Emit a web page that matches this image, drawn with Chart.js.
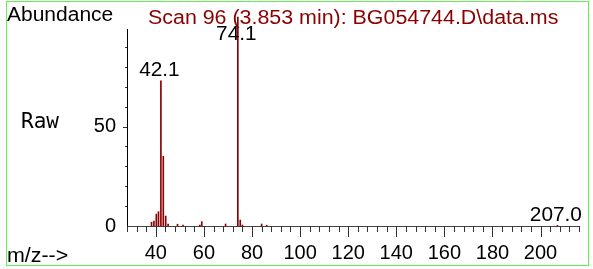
<!DOCTYPE html>
<html>
<head>
<meta charset="utf-8">
<script src="https://cdn.jsdelivr.net/npm/chart.js@4"></script>
<style>
    html, body { margin: 0; padding: 0; background: #fff; }
    #wrap { width: 593px; height: 269px; }
</style>
</head>
<body>
<div id="wrap"><canvas id="spectrum"></canvas></div>
<script>
// mass spectrum, m/z vs abundance
const mzValues = [38.2, 39.2, 40.2, 41.1, 42.1, 43.1, 44.1, 45.1, 49.0, 51.3, 58.3, 59.1, 69.0, 74.1, 75.1, 76.0, 84.0, 86.1, 207.0];
const abundance = [1.9, 2.5, 6, 7.2, 72.9, 35, 5, 1, 0.9, 0.4, 0.5, 2.2, 1, 105, 3, 0.5, 1, 0.4, 0.3];
const peakLabels = [[42.1, '42.1'], [74.1, '74.1'], [207.0, '207.0']];
const xTickLabels = [40, 60, 80, 100, 120, 140, 160, 180, 200];
const yTickLabels = [0, 50];

const titleText = 'Scan 96 (3.853 min): BG054744.D\\data.ms';
const FONT = '"Liberation Sans", Arial, sans-serif';
const RED = '#8b0000';

// the scanned picture is a bit wider than tall, so stretch free text a little
function wideText(ctx, text, x, y, sx) {
    ctx.save();
    ctx.translate(x, y);
    ctx.scale(sx, 1);
    ctx.fillText(text, 0, 0);
    ctx.restore();
}

const decorations = {
    id: 'decorations',
    afterDraw(chart) {
        const ctx = chart.ctx;
        const x = chart.scales.x;
        const y = chart.scales.y;
        const area = chart.chartArea;
        ctx.save();

        // green frame
        ctx.strokeStyle = '#66ee55';
        ctx.lineWidth = 1;
        ctx.strokeRect(6.5, 1.5, 582, 264);

        // tick marks
        ctx.strokeStyle = '#333';
        ctx.beginPath();
        for (let v = 28; v <= 216; v += 4) {
            const px = Math.round(x.getPixelForValue(v)) + 0.5;
            const len = v % 20 === 0 ? 11 : 6;
            ctx.moveTo(px, area.bottom);
            ctx.lineTo(px, area.bottom + len);
        }
        for (let v = 10; v <= 90; v += 10) {
            const py = Math.round(y.getPixelForValue(v)) + 0.5;
            const len = v % 50 === 0 ? 4 : 2;
            ctx.moveTo(area.left, py);
            ctx.lineTo(area.left - len, py);
        }
        ctx.stroke();

        // texts
        ctx.font = '20px ' + FONT;
        ctx.textBaseline = 'alphabetic';
        ctx.textAlign = 'left';
        ctx.fillStyle = '#000';
        wideText(ctx, 'Abundance', 7, 21, 1.05);
        wideText(ctx, 'm/z-->', 7, 262, 1.07);

        ctx.fillStyle = RED;
        wideText(ctx, titleText, 148, 23.5, 1.07);

        ctx.fillStyle = '#000';
        ctx.font = '21px "DejaVu Sans Mono", monospace';
        ctx.fillText('Raw', 21, 128);

        // peak labels
        ctx.font = '20px ' + FONT;
        ctx.textAlign = 'center';
        peakLabels.forEach(([mz, text]) => {
            const i = mzValues.indexOf(mz);
            const top = y.getPixelForValue(abundance[i]);
            const by = Math.max(top - 4.5, area.top + 11);
            wideText(ctx, text, x.getPixelForValue(mz) - 1.5, by, 1.04);
        });
        ctx.restore();
    }
};

new Chart(document.getElementById('spectrum'), {
    type: 'bar',
    data: {
        datasets: [{
            data: mzValues.map((m, i) => ({ x: m, y: abundance[i] })),
            backgroundColor: RED,
            barThickness: 1,
            clip: false
        }]
    },
    options: {
        responsive: true,
        maintainAspectRatio: false,
        animation: false,
        events: [],
        layout: { padding: { left: 0, top: 29, right: 14, bottom: 0 } },
        plugins: {
            legend: { display: false },
            tooltip: { enabled: false }
        },
        scales: {
            x: {
                type: 'linear',
                offset: false,
                min: 28,
                max: 216,
                grid: { display: false },
                border: { display: true, color: '#444', width: 1 },
                afterBuildTicks: (scale) => { scale.ticks = xTickLabels.map(v => ({ value: v })); },
                ticks: {
                    autoSkip: false,
                    maxRotation: 0,
                    padding: 7,
                    color: '#000',
                    font: { family: FONT, size: 20 }
                },
                afterFit: (scale) => { scale.height = 43; }
            },
            y: {
                min: 0,
                max: 99,
                grid: { display: false },
                border: { display: true, color: '#000', width: 1 },
                afterBuildTicks: (scale) => { scale.ticks = yTickLabels.map(v => ({ value: v })); },
                ticks: {
                    autoSkip: false,
                    padding: 3,
                    color: '#000',
                    font: { family: FONT, size: 20 }
                },
                afterFit: (scale) => { scale.width = 127; }
            }
        }
    },
    plugins: [decorations]
});
</script>
</body>
</html>
